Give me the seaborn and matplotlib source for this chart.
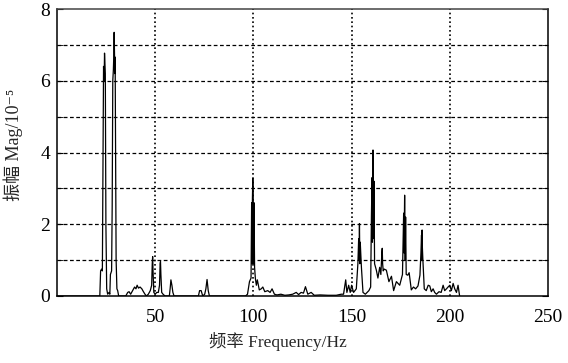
import numpy as np
import pandas as pd
import matplotlib
matplotlib.use('Agg')
import matplotlib.pyplot as plt
import seaborn as sns

# Spectrum outline (frequency in Hz, magnitude in 1e-5)
freq = [0.0, 21.8, 22.2, 22.7, 23.1, 23.4, 23.7, 24.0, 24.2, 24.4, 24.6, 24.9, 25.3, 25.8, 26.5,
        26.9, 27.2, 27.8, 28.1, 28.4, 28.7, 28.9, 29.1, 29.3, 29.45, 29.6, 29.8, 30.1, 30.5, 30.9, 31.4,
        35.0, 36.0, 36.7, 37.5, 38.5, 39.5, 40.2, 40.8, 41.5, 42.3, 43.2, 44.0, 44.8,
        45.5, 46.5, 47.5, 48.2, 48.5, 48.7, 48.9, 49.3, 50.0, 50.8, 51.6, 52.2, 52.5, 52.7, 52.9,
        53.3, 54.0, 55.0, 57.2, 57.6, 58.0, 58.5, 59.0, 59.6, 72.0, 72.6, 73.4, 74.2,
        75.2, 75.8, 76.4, 77.0, 77.6, 96.0, 97.0, 98.0, 98.8, 99.1, 99.3, 99.5, 99.7, 99.9,
        100.1, 100.3, 100.6, 101.0, 101.5, 102.0, 103.0, 104.0, 104.8, 105.8, 107.3, 108.5, 109.5,
        110.7, 112.0, 114.0, 116.0, 118.0, 120.0, 121.8, 123.0, 124.3, 125.5, 126.5, 127.7,
        129.4, 131.0, 134.0, 138.0, 142.2, 144.7, 145.9, 147.0, 147.6, 148.5, 149.3,
        150.0, 151.0, 152.4, 153.2, 153.6, 153.8, 154.0, 154.2, 154.4, 155.0, 155.8, 157.0, 158.8,
        159.7, 160.1, 160.4, 160.6, 160.8, 160.9, 161.0, 161.2, 161.4, 161.7, 162.6, 163.4, 164.3,
        164.9, 165.4, 165.6, 165.8, 166.1, 166.6, 167.7, 169.0, 170.3, 171.4, 172.8, 174.5, 175.9,
        176.3, 176.5, 176.7, 176.9, 177.0, 177.1, 177.3, 177.5, 177.8, 178.6, 179.3, 180.4, 181.5,
        182.6, 183.8, 184.8, 185.3, 185.6, 185.8, 185.9, 186.0, 186.3, 187.0, 188.0, 189.0, 189.8,
        190.6, 191.5, 192.3, 193.2, 194.5, 195.6, 196.6, 197.4, 198.3, 199.1, 200.0, 200.8, 201.7,
        202.5, 203.4, 204.2, 205.0]
mag = [0.0, 0.0, 0.7, 0.75, 0.7, 3.5, 6.4, 6.0, 6.77, 6.5, 6.2, 2.0, 0.2, 0.05, 0.1,
       0.05, 0.6, 0.7, 2.5, 6.0, 6.3, 6.66, 7.35, 6.6, 6.2, 6.66, 4.6, 1.0, 0.2, 0.15, 0.0,
       0.0, 0.1, 0.12, 0.05, 0.15, 0.25, 0.2, 0.3, 0.22, 0.25, 0.2, 0.12, 0.05,
       0.0, 0.05, 0.15, 0.3, 0.9, 1.1, 0.7, 0.1, 0.05, 0.1, 0.1, 0.3, 0.9, 0.96, 0.6,
       0.1, 0.05, 0.0, 0.0, 0.2, 0.45, 0.3, 0.1, 0.0, 0.0, 0.15, 0.15, 0.0,
       0.05, 0.2, 0.46, 0.15, 0.0, 0.0, 0.05, 0.4, 0.5, 2.6, 0.9, 2.72, 3.28, 2.7,
       0.9, 2.6, 0.8, 0.49, 0.3, 0.45, 0.17, 0.2, 0.25, 0.12, 0.15, 0.1, 0.2,
       0.05, 0.03, 0.05, 0.02, 0.03, 0.05, 0.1, 0.04, 0.1, 0.08, 0.26, 0.05,
       0.1, 0.02, 0.03, 0.02, 0.02, 0.05, 0.05, 0.45, 0.1, 0.3, 0.1,
       0.3, 0.1, 0.2, 0.9, 1.6, 1.0, 2.02, 0.9, 1.5, 0.8, 0.1, 0.05, 0.15,
       0.25, 2.25, 3.3, 1.5, 3.32, 4.07, 3.3, 1.6, 3.2, 0.9, 0.72, 0.5, 0.8,
       0.6, 1.2, 1.33, 0.9, 0.7, 0.75, 0.72, 0.4, 0.55, 0.15, 0.4, 0.3, 0.6,
       1.8, 2.31, 1.2, 2.3, 2.81, 2.3, 1.0, 2.2, 0.6, 0.58, 0.65, 0.17, 0.25,
       0.2, 0.28, 0.58, 1.2, 1.7, 1.0, 1.84, 1.4, 1.0, 0.2, 0.15, 0.3, 0.28,
       0.12, 0.2, 0.1, 0.05, 0.12, 0.1, 0.3, 0.15, 0.2, 0.25, 0.3, 0.15, 0.35,
       0.2, 0.1, 0.3, 0.0]

x_ticks = [50, 100, 150, 200, 250]
y_ticks = [0, 2, 4, 6, 8]
y_minor = [1, 3, 5, 7]

sns.set_style('white')
plt.rcParams['font.family'] = ['Liberation Serif', 'Noto Sans CJK SC', 'DejaVu Serif']

spec = pd.DataFrame({'freq': freq, 'mag': mag})

fig = plt.figure(figsize=(5.68, 3.63), dpi=100)
ax = fig.add_axes([57 / 568, 67 / 363, 491 / 568, 287 / 363])

sns.lineplot(data=spec, x='freq', y='mag', color='black', linewidth=0.9,
             estimator=None, sort=False, ax=ax)

ax.set_xlim(0, 250)
ax.set_ylim(0, 8)
ax.set_xticks(x_ticks)
ax.set_yticks(y_ticks)
ax.set_yticks(y_minor, minor=True)

# grid: dotted verticals, dashed horizontals
for xv in x_ticks[:-1]:
    ax.axvline(xv, color='black', linestyle=(0, (1, 1.6)), linewidth=1.2, zorder=0)
for yv in [1, 2, 3, 4, 5, 6, 7]:
    ax.axhline(yv, color='black', linestyle=(0, (3, 2)), linewidth=0.9, zorder=0)

ax.tick_params(axis='both', which='both', direction='in', colors='black',
               labelsize=14, right=True, left=True, bottom=False, top=False)
ax.tick_params(axis='y', which='both', length=4, pad=5)
ax.tick_params(axis='x', pad=9)

for side in ['left', 'right', 'bottom', 'top']:
    ax.spines[side].set_color('black')
    ax.spines[side].set_linewidth(1.1)
ax.spines['top'].set_color('#444444')

ax.set_xlabel('频率 Frequency/Hz', fontsize=12.5)
ax.set_ylabel('振幅 Mag/10⁻⁵', fontsize=13)
ax.xaxis.set_label_coords(0.449, -0.125)
ax.yaxis.set_label_coords(-0.07, 0.525)

fig.savefig('out.png', dpi=100)
